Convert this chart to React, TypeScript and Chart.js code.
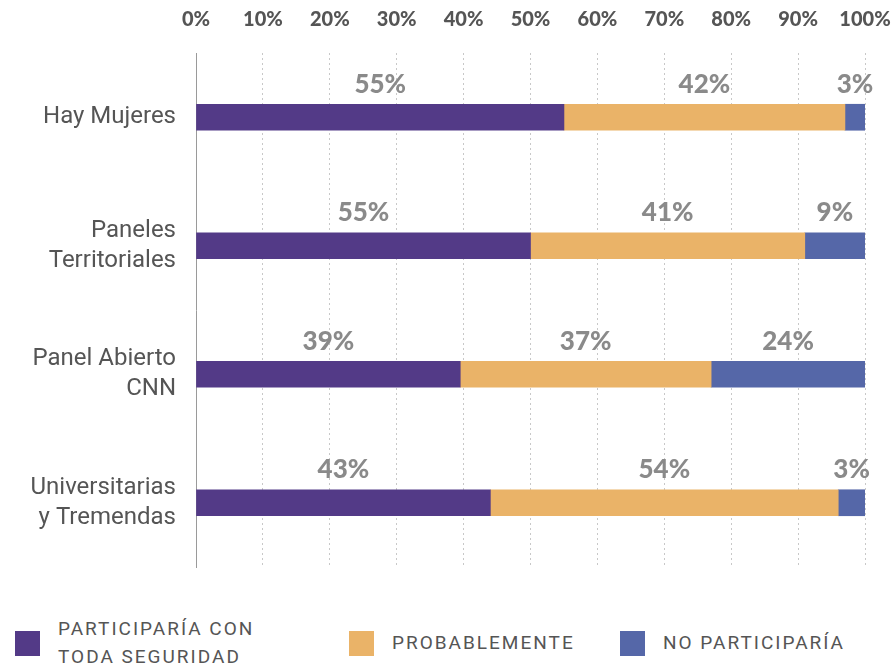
import React, { useEffect, useRef } from "react";
import { Chart, registerables } from "chart.js";

Chart.register(...registerables);

const categories: string[][] = [
  ["Hay Mujeres"],
  ["Paneles", "Territoriales"],
  ["Panel Abierto", "CNN"],
  ["Universitarias", "y Tremendas"],
];

const seriesNames = ["PARTICIPARÍA CON TODA SEGURIDAD", "PROBABLEMENTE", "NO PARTICIPARÍA"];
const legendLines: string[][] = [["PARTICIPARÍA CON", "TODA SEGURIDAD"], ["PROBABLEMENTE"], ["NO PARTICIPARÍA"]];

// bar lengths as drawn in the reference
const seguro = [55, 50, 39.5, 44];
const probable = [42, 41, 37.5, 52];
const noParticipa = [3, 9, 23, 4];

// value labels as printed in the reference
const seguroLabels = ["55%", "55%", "39%", "43%"];
const probableLabels = ["42%", "41%", "37%", "54%"];
const noLabels = ["3%", "9%", "24%", "3%"];

const xTicks = [0, 10, 20, 30, 40, 50, 60, 70, 80, 90, 100];

const colors = ["#533A87", "#EAB368", "#5567A8"];

const valueLabelPlugin = {
  id: "valueLabels",
  afterDatasetsDraw(chart: any) {
    const ctx = chart.ctx;
    const all = [seguroLabels, probableLabels, noLabels];
    ctx.save();
    ctx.font = "900 26px Lato";
    ctx.fillStyle = "#8a8a8a";
    ctx.textAlign = "center";
    ctx.textBaseline = "middle";
    chart.data.datasets.forEach((ds: any, i: number) => {
      const meta = chart.getDatasetMeta(i);
      meta.data.forEach((bar: any, j: number) => {
        const cx = (bar.x + bar.base) / 2;
        ctx.fillText(all[i][j], cx, bar.y - 33);
      });
    });
    ctx.restore();
  },
};

export default function App() {
  const ref = useRef<HTMLCanvasElement>(null);

  useEffect(() => {
    document.body.style.margin = "0";
    const canvas = ref.current!;
    const chart = new Chart(canvas, {
      type: "bar",
      data: {
        labels: categories,
        datasets: [
          { label: seriesNames[0], data: seguro, backgroundColor: colors[0] },
          { label: seriesNames[1], data: probable, backgroundColor: colors[1] },
          { label: seriesNames[2], data: noParticipa, backgroundColor: colors[2] },
        ].map((d) => ({ ...d, barThickness: 26, borderWidth: 0 })),
      },
      options: {
        indexAxis: "y",
        responsive: false,
        animation: false,
        layout: { padding: { top: 0, left: 0, right: 27, bottom: 23 } },
        plugins: { legend: { display: false }, tooltip: { enabled: false } },
        scales: {
          x: {
            position: "top",
            stacked: true,
            min: 0,
            max: 100,
            afterBuildTicks(scale: any) {
              scale.ticks = xTicks.map((v) => ({ value: v }));
            },
            afterFit(scale: any) {
              scale.height = 53;
              scale.paddingLeft = 0;
              scale.paddingRight = 0;
            },
            ticks: {
              callback: (v: any) => v + "%",
              color: "#555555",
              font: { family: "Lato", weight: "900", size: 20 },
              padding: 21,
              maxRotation: 0,
              autoSkip: false,
            },
            grid: {
              color: "#c8c8c8",
              drawTicks: false,
              lineWidth: 1,
              tickBorderDash: [2, 3],
            },
            border: { display: false, dash: [2, 3] },
          },
          y: {
            stacked: true,
            afterFit(scale: any) {
              scale.width = 196;
              scale.paddingTop = 0;
              scale.paddingBottom = 0;
            },
            ticks: {
              color: "#555555",
              font: { family: "Roboto", size: 24, lineHeight: 1.25 },
              padding: 20,
            },
            grid: { display: false, drawTicks: false },
            border: { display: true, color: "#9a9a9a", width: 1 },
          },
        },
      },
      plugins: [valueLabelPlugin],
    } as any);
    return () => chart.destroy();
  }, []);

  const legendX = [15, 349, 620];

  return (
    <div style={{ position: "relative", width: 892, height: 668, overflow: "hidden" }}>
      <canvas ref={ref} width={892} height={590} style={{ position: "absolute", left: 0, top: 0 }} />
      {legendLines.map((lines, i) => (
        <div
          key={i}
          style={{
            position: "absolute",
            left: legendX[i],
            top: 618,
            height: 50,
            display: "flex",
            alignItems: "center",
          }}
        >
          <div style={{ width: 25, height: 25, background: colors[i], marginRight: 18, flex: "none" }} />
          <div
            style={{
              fontFamily: "Roboto",
              fontSize: 19,
              letterSpacing: 2,
              color: "#555555",
              lineHeight: "28px",
            }}
          >
            {lines.map((l, k) => (
              <div key={k}>{l}</div>
            ))}
          </div>
        </div>
      ))}
    </div>
  );
}
